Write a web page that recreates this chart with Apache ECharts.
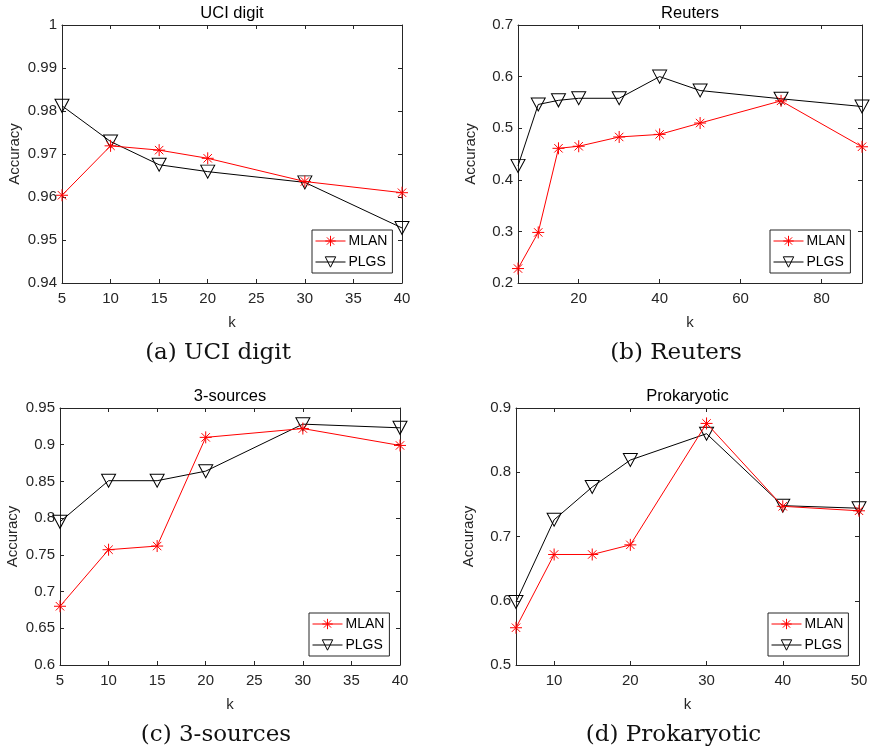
<!DOCTYPE html>
<html>
<head>
<meta charset="utf-8">
<script src="https://cdn.jsdelivr.net/npm/echarts@6/dist/echarts.min.js"></script>
<style>
html,body{margin:0;padding:0;background:#fff;}
#chart{width:875px;height:751px;}
</style>
</head>
<body>
<div id="chart"></div>
<script>
// ---- data ----
const kA = [5, 10, 15, 20, 30, 40];
const mlanA = [0.9604, 0.9719, 0.9709, 0.9690, 0.9636, 0.9610];
const plgsA = [0.9812, 0.9729, 0.9675, 0.9659, 0.9634, 0.9528];

const kB = [5, 10, 15, 20, 30, 40, 50, 70, 90];
const mlanB = [0.228, 0.298, 0.461, 0.465, 0.483, 0.488, 0.510, 0.553, 0.464];
const plgsB = [0.427, 0.546, 0.554, 0.558, 0.558, 0.600, 0.573, 0.557, 0.542];

const kC = [5, 10, 15, 20, 30, 40];
const mlanC = [0.680, 0.757, 0.762, 0.910, 0.922, 0.899];
const plgsC = [0.795, 0.851, 0.851, 0.864, 0.928, 0.923];

const kD = [5, 10, 15, 20, 30, 40, 50];
const mlanD = [0.558, 0.672, 0.672, 0.687, 0.876, 0.747, 0.740];
const plgsD = [0.598, 0.726, 0.777, 0.819, 0.860, 0.748, 0.744];

const seriesNames = ['MLAN', 'PLGS'];
const panelTitles = ['UCI digit', 'Reuters', '3-sources', 'Prokaryotic'];
const captions = ['(a) UCI digit', '(b) Reuters', '(c) 3-sources', '(d) Prokaryotic'];
const xTicksB = [20, 40, 60, 80];
const xTicksD = [10, 20, 30, 40, 50];

// ---- layout/style ----
const AX = '#262626';
const SANS = 'Liberation Sans, Arial, sans-serif';
const SERIF = 'DejaVu Serif, serif';
const ASTER = 'path://M0,-1L0,1M-1,0L1,0M-0.7,-0.7L0.7,0.7M-0.7,0.7L0.7,-0.7';
const TRI = 'path://M-1,-0.85L1,-0.85L0,0.95Z';

const panels = [
  {grid:{left:62, top:25, width:340, height:258}, x:{min:5,max:40,interval:5}, y:{min:0.94,max:1,interval:0.01},
   k:kA, m:mlanA, p:plgsA, legend:{left:312, top:230}},
  {grid:{left:518, top:25, width:344, height:258}, x:{min:5,max:90,custom:xTicksB}, y:{min:0.2,max:0.7,interval:0.1},
   k:kB, m:mlanB, p:plgsB, legend:{left:770, top:230}},
  {grid:{left:60, top:408, width:340, height:257}, x:{min:5,max:40,interval:5}, y:{min:0.6,max:0.95,interval:0.05},
   k:kC, m:mlanC, p:plgsC, legend:{left:309, top:613}},
  {grid:{left:516, top:408, width:343, height:257}, x:{min:5,max:50,custom:xTicksD}, y:{min:0.5,max:0.9,interval:0.1},
   k:kD, m:mlanD, p:plgsD, legend:{left:768, top:613}}
];

const grids = [], xAxes = [], yAxes = [], series = [], legends = [], graphics = [];

panels.forEach((pn, i) => {
  grids.push(Object.assign({containLabel:false}, pn.grid));
  const xBase = {
    type:'value', gridIndex:i, min:pn.x.min, max:pn.x.max,
    axisLine:{show:true, lineStyle:{color:AX, width:1}},
    axisTick:{show:true, inside:true, length:4, lineStyle:{color:AX}},
    splitLine:{show:false}
  };
  if (pn.x.custom) {
    xBase.axisTick.customValues = pn.x.custom;
  } else {
    xBase.interval = pn.x.interval;
  }
  const xMain = Object.assign({}, xBase, {
    position:'bottom',
    axisLabel:{show:true, color:AX, fontSize:15, fontFamily:SANS, margin:8, showMinLabel:true, showMaxLabel:true},
    name:'k', nameLocation:'middle', nameGap:32,
    nameTextStyle:{color:AX, fontSize:15, fontFamily:SANS}
  });
  if (pn.x.custom) xMain.axisLabel.customValues = pn.x.custom;
  const xTop = Object.assign({}, xBase, {position:'top', axisLabel:{show:false}});
  if (pn.x.custom) xTop.axisTick = Object.assign({}, xBase.axisTick);
  xAxes.push(xMain, xTop);

  const yBase = {
    type:'value', gridIndex:i, min:pn.y.min, max:pn.y.max, interval:pn.y.interval,
    axisLine:{show:true, lineStyle:{color:AX, width:1}},
    axisTick:{show:true, inside:true, length:4, lineStyle:{color:AX}},
    splitLine:{show:false}
  };
  yAxes.push(Object.assign({}, yBase, {
    position:'left',
    axisLabel:{show:true, color:AX, fontSize:15, fontFamily:SANS, margin:5, showMinLabel:true, showMaxLabel:true},
    name:'Accuracy', nameLocation:'middle', nameGap:40,
    nameTextStyle:{color:AX, fontSize:15, fontFamily:SANS}
  }), Object.assign({}, yBase, {position:'right', axisLabel:{show:false}}));

  series.push({
    name:seriesNames[0], type:'line', xAxisIndex:2*i, yAxisIndex:2*i,
    data: pn.k.map((k, j) => [k, pn.m[j]]),
    symbol:ASTER, symbolSize:12,
    lineStyle:{color:'#ff0000', width:1},
    itemStyle:{color:'#ff0000', borderColor:'#ff0000', borderWidth:1},
    emphasis:{disabled:true}, animation:false, z:3
  });
  series.push({
    name:seriesNames[1], type:'line', xAxisIndex:2*i, yAxisIndex:2*i,
    data: pn.k.map((k, j) => [k, pn.p[j]]),
    symbol:TRI, symbolSize:[14,13],
    lineStyle:{color:'#000', width:1},
    itemStyle:{color:'rgba(0,0,0,0)', borderColor:'#000', borderWidth:1},
    emphasis:{disabled:true}, animation:false, z:2
  });

  legends.push({
    orient:'vertical', left:pn.legend.left, top:pn.legend.top,
    data:[
      {name:seriesNames[0], itemStyle:{color:'#ff0000', borderColor:'#ff0000', borderWidth:1}, lineStyle:{color:'#ff0000', width:1}},
      {name:seriesNames[1], itemStyle:{color:'rgba(0,0,0,0)', borderColor:'#000', borderWidth:1}, lineStyle:{color:'#000', width:1}}
    ],
    itemWidth:30, itemHeight:13, itemGap:7,
    lineStyle:{width:1}, itemStyle:{borderWidth:1},
    padding:[4,5,4,3], backgroundColor:'#fff', borderColor:AX, borderWidth:1,
    textStyle:{color:'#000', fontSize:14, fontFamily:SANS, padding:[0,0,0,-2]},
    selectedMode:false
  });

  const cx = pn.grid.left + pn.grid.width/2;
  graphics.push({
    type:'text', x:cx, y:pn.grid.top - 12,
    style:{text:panelTitles[i], fill:'#000', font:'16.5px ' + SANS, textAlign:'center', textVerticalAlign:'middle'}
  });
  graphics.push({
    type:'text', x:cx - 14, y:pn.grid.top + pn.grid.height + 70,
    style:{text:captions[i], fill:'#111', font:'23px ' + SERIF, textAlign:'center', textVerticalAlign:'middle'}
  });
});

const chart = echarts.init(document.getElementById('chart'), null, {renderer:'canvas'});
chart.setOption({
  animation:false,
  backgroundColor:'#fff',
  grid:grids, xAxis:xAxes, yAxis:yAxes, series:series, legend:legends, graphic:graphics
});
</script>
</body>
</html>
